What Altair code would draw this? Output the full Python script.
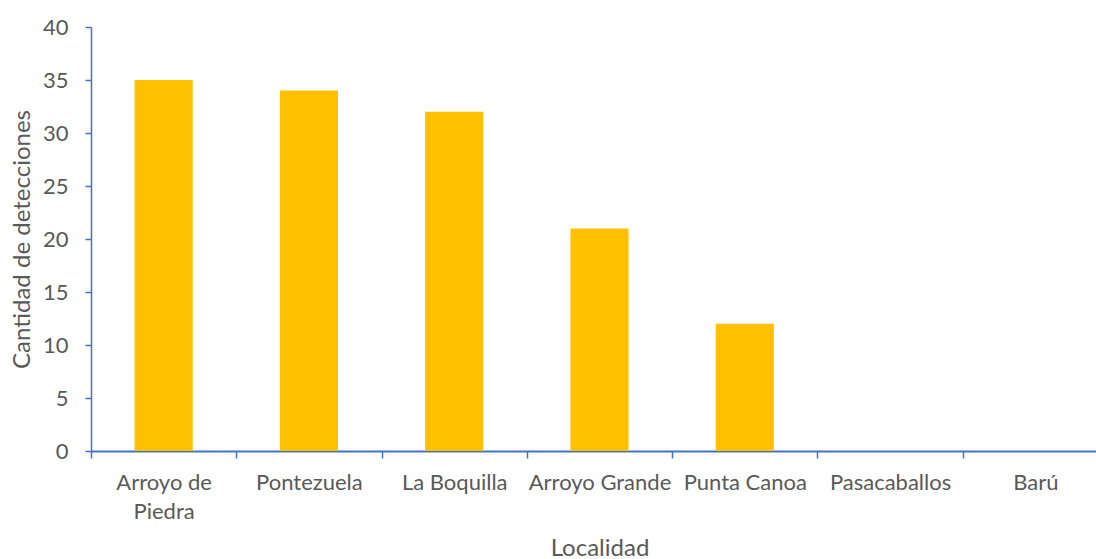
import altair as alt
import pandas as pd

# Detections per locality
localidades = ["Arroyo de\nPiedra", "Pontezuela", "La Boquilla", "Arroyo Grande",
               "Punta Canoa", "Pasacaballos", "Barú"]
detecciones = [35, 34, 32, 21, 12, 0, 0]
y_ticks = [0, 5, 10, 15, 20, 25, 30, 35, 40]

df = pd.DataFrame({"localidad": localidades, "detecciones": detecciones})

AXIS_BLUE = "#4472C4"
TEXT_GRAY = "#595959"
FONT = "Lato"

chart = (
    alt.Chart(df)
    .mark_bar(color="#FFC000", width=alt.RelativeBandSize(0.4))
    .encode(
        x=alt.X(
            "localidad:N",
            sort=localidades,
            scale=alt.Scale(paddingInner=0, paddingOuter=0, range=[0, 1017]),
            axis=alt.Axis(
                title="Localidad",
                labelAngle=0,
                labelExpr="split(datum.label, '\\n')",
                labelLineHeight=29,
                labelPadding=14,
                labelFontSize=22,
                labelColor=TEXT_GRAY,
                labelFont=FONT,
                tickBand="extent",
                tickSize=7,
                tickColor=AXIS_BLUE,
                tickWidth=1.5,
                domainColor=AXIS_BLUE,
                domainWidth=2,
                titleFontSize=24,
                titleFontWeight="normal",
                titleColor=TEXT_GRAY,
                titleFont=FONT,
                titlePadding=14,
            ),
        ),
        y=alt.Y(
            "detecciones:Q",
            scale=alt.Scale(domain=[0, 40], nice=False),
            axis=alt.Axis(
                title="Cantidad  de detecciones",
                values=y_ticks,
                grid=False,
                labelFontSize=22,
                labelColor=TEXT_GRAY,
                labelFont=FONT,
                labelPadding=17,
                tickSize=6,
                tickColor=AXIS_BLUE,
                tickWidth=1.5,
                domainColor=AXIS_BLUE,
                domainWidth=1.5,
                titleFontSize=24,
                titleFontWeight="normal",
                titleColor=TEXT_GRAY,
                titleFont=FONT,
                titlePadding=8,
            ),
        ),
    )
    .properties(
        width=1005,
        height=424,
        background="white",
        autosize=alt.AutoSizeParams(type="none"),
        padding={"left": 91, "top": 27, "right": 0, "bottom": 108},
    )
    .configure_view(stroke=None)
)

chart.save("out.html", embed_options={"renderer": "svg", "actions": False})
